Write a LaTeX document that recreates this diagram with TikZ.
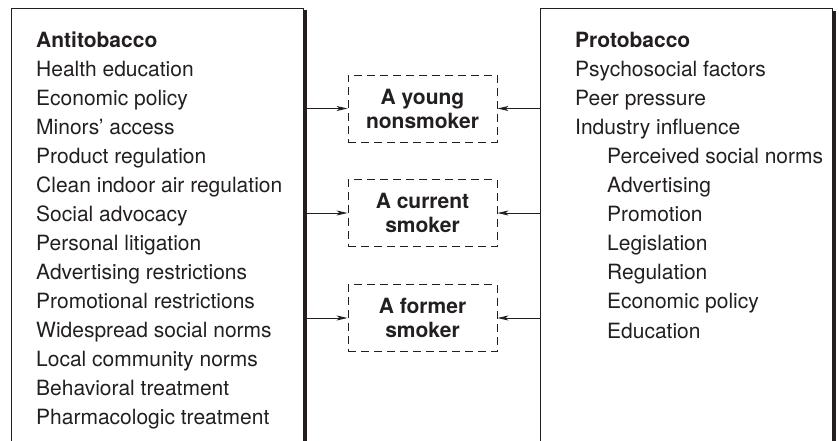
\documentclass[tikz,border=0pt]{standalone}
\usepackage{fontspec}
\setmainfont{TeX Gyre Heros}
\usetikzlibrary{arrows.meta}
\definecolor{ink}{RGB}{35,31,32}
\tikzset{
  frame/.style={draw=ink, line width=0.9pt, anchor=north west, inner sep=0pt},
  item/.style={anchor=base west, inner sep=0pt, text=ink, font=\fontsize{21}{29}\selectfont},
  head/.style={item, font=\fontsize{21}{29}\selectfont\bfseries},
  statebox/.style={draw=ink, line width=0.9pt, dash pattern=on 8pt off 5pt, minimum width=149pt, minimum height=67pt, align=center, inner sep=0pt, text=ink, font=\fontsize{21}{24}\selectfont\bfseries},
  arr/.style={draw=ink, line width=0.9pt, -{Stealth[length=11pt,width=5pt,inset=3pt]}},
  shadowbar/.style={fill=ink}
}
\begin{document}
\begin{tikzpicture}[x=1pt,y=-1pt]
\useasboundingbox (0,0) rectangle (839,440);
% boxes
\node[frame, minimum width=292pt, minimum height=445pt] (L) at (11,8) {};
\node[frame, minimum width=292pt, minimum height=445pt] (R) at (540,8) {};
\fill[shadowbar] (303,10) rectangle (306.7,455);
\fill[shadowbar] (832,11) rectangle (835.7,455);
% left list
\node[head] (l0) at (36,47) {Antitobacco};
\foreach \t [count=\i] in {Health education, Economic policy, Minors’ access, Product regulation, Clean indoor air regulation, Social advocacy, Personal litigation, Advertising restrictions, Promotional restrictions, Widespread social norms, Local community norms, Behavioral treatment, Pharmacologic treatment}
  \node[item] (l\i) at (36,47+29*\i) {\t};
% right list
\node[head] (r0) at (575,47) {Protobacco};
\foreach \t [count=\i] in {Psychosocial factors, Peer pressure, Industry influence}
  \node[item] (r\i) at (575,47+29.3*\i) {\t};
\foreach \t [count=\i from 4] in {Perceived social norms, Advertising, Promotion, Legislation, Regulation, Economic policy, Education}
  \node[item] (r\i) at (607,47+29.1*\i) {\t};
% state boxes
\node[statebox] (s1) at (422.5,108.5) {A young\\nonsmoker};
\node[statebox] (s2) at (422.5,213) {A current\\smoker};
\node[statebox] (s3) at (422.5,318) {A former\\smoker};
% arrows
\foreach \s in {s1,s2,s3}{
  \draw[arr] (L.east |- \s.west) -- (\s.west);
  \draw[arr] (R.west |- \s.east) -- (\s.east);
}
\end{tikzpicture}
\end{document}
